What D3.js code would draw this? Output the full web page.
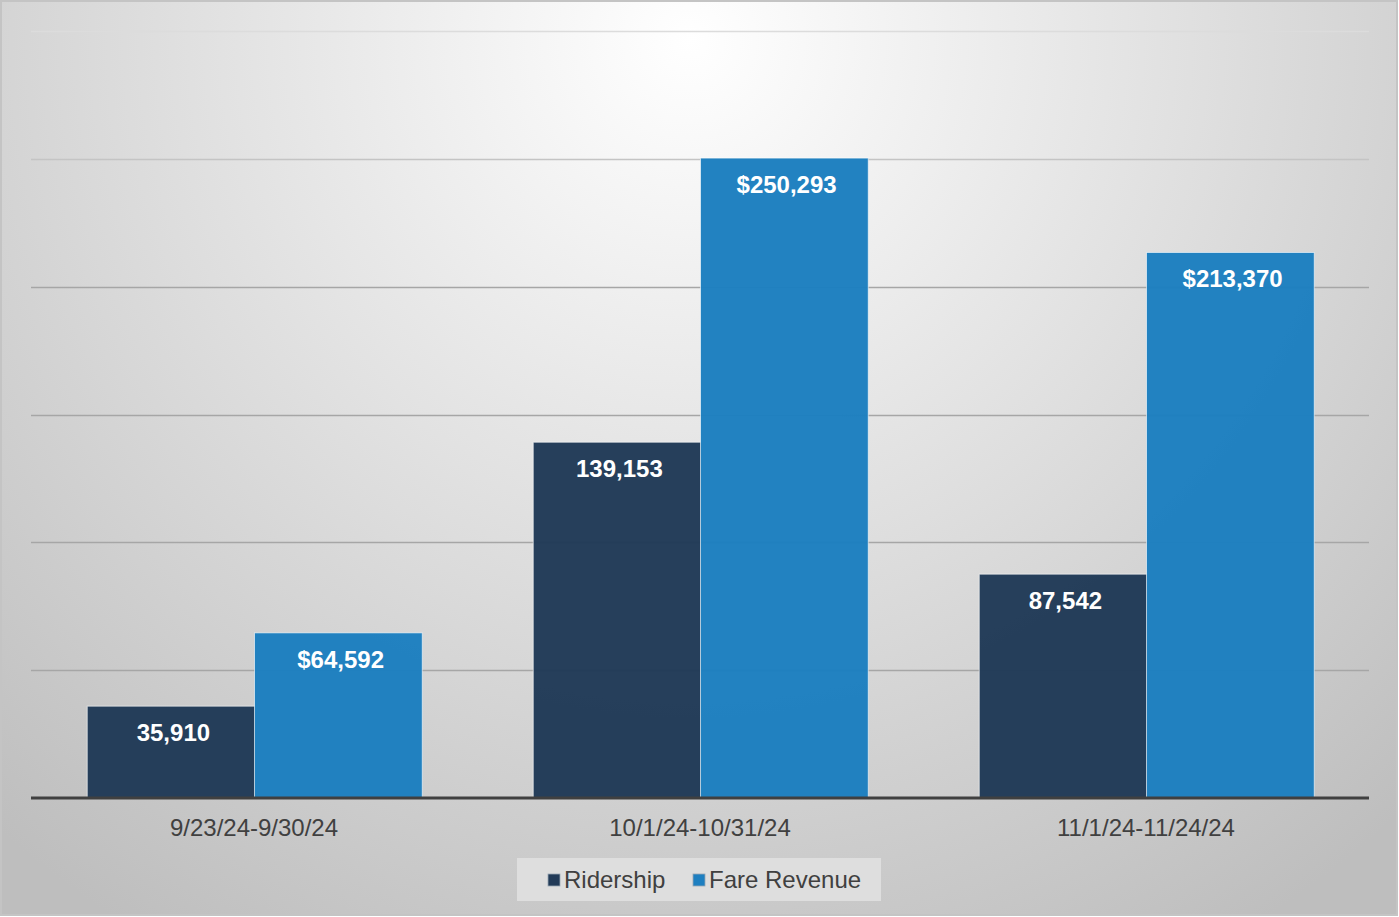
<!DOCTYPE html>
<html>
<head>
<meta charset="utf-8">
<script src="https://cdn.jsdelivr.net/npm/d3@7"></script>
<style>
  html, body { margin: 0; padding: 0; background: #fff; }
  svg { display: block; font-family: "Liberation Sans", Arial, sans-serif; }
</style>
</head>
<body>
<div id="chart"></div>
<script>
  // periods on the x axis
  var categories = ["9/23/24-9/30/24", "10/1/24-10/31/24", "11/1/24-11/24/24"];
  var seriesNames = ["Ridership", "Fare Revenue"];
  var ridership = [35910, 139153, 87542];
  var fareRevenue = [64592, 250293, 213370];
  var gridTicks = [0, 50000, 100000, 150000, 200000, 250000, 300000];

  var colors = { "Ridership": "#223b58", "Fare Revenue": "#1e7fc0" };

  var W = 1399, H = 917;
  var plot = { left: 31, right: 1369, top: 31, bottom: 798 };

  var svg = d3.select("#chart").append("svg")
    .attr("width", W)
    .attr("height", H);

  // background gradient, light at top middle
  var defs = svg.append("defs");
  var grad = defs.append("radialGradient")
    .attr("id", "bg")
    .attr("gradientUnits", "userSpaceOnUse")
    .attr("cx", 690).attr("cy", 40).attr("r", 1050);
  grad.append("stop").attr("offset", "0%").attr("stop-color", "#ffffff");
  grad.append("stop").attr("offset", "100%").attr("stop-color", "#bebebe");

  svg.append("rect")
    .attr("x", 1).attr("y", 1)
    .attr("width", W - 3).attr("height", H - 3)
    .attr("fill", "url(#bg)")
    .attr("stroke", "#c4c4c4")
    .attr("stroke-width", 2);

  var y = d3.scaleLinear().domain([0, 300000]).range([plot.bottom, plot.top]);

  var x0 = d3.scaleBand()
    .domain(categories)
    .range([plot.left, plot.right])
    .paddingInner(0.25)
    .paddingOuter(0.125);

  var x1 = d3.scaleBand()
    .domain(seriesNames)
    .range([0, x0.bandwidth()]);

  // gridlines
  svg.append("g").selectAll("line")
    .data(gridTicks.filter(function(d){ return d > 0; }))
    .enter()
    .append("line")
    .attr("x1", plot.left).attr("x2", plot.right)
    .attr("y1", function(d){ return Math.round(y(d)) + 0.5; })
    .attr("y2", function(d){ return Math.round(y(d)) + 0.5; })
    .attr("stroke", function(d){ return d >= 300000 ? "#dcdcdc" : (d >= 250000 ? "#c4c4c4" : "#a6a6a6"); })
    .attr("stroke-width", 1.5);

  var rows = categories.map(function(c, i){
    return { cat: c, values: [
      { name: "Ridership", value: ridership[i], label: d3.format(",")(ridership[i]) },
      { name: "Fare Revenue", value: fareRevenue[i], label: "$" + d3.format(",")(fareRevenue[i]) }
    ]};
  });

  var groups = svg.append("g").selectAll("g")
    .data(rows)
    .enter()
    .append("g")
    .attr("transform", function(d){ return "translate(" + x0(d.cat) + ",0)"; });

  groups.selectAll("rect")
    .data(function(d){ return d.values; })
    .enter()
    .append("rect")
    .attr("x", function(d){ return x1(d.name) + 0.5; })
    .attr("y", function(d){ return y(d.value); })
    .attr("width", x1.bandwidth() + 0.5)
    .attr("height", function(d){ return y(0) - y(d.value); })
    .attr("fill", function(d){ return colors[d.name]; })
    .attr("fill-opacity", 0.98)
    .attr("stroke", "rgba(255,255,255,0.6)")
    .attr("stroke-width", 1);

  groups.selectAll("text")
    .data(function(d){ return d.values; })
    .enter()
    .append("text")
    .attr("x", function(d){ return x1(d.name) + x1.bandwidth() / 2 + 3; })
    .attr("y", function(d){ return y(d.value) + 35; })
    .attr("text-anchor", "middle")
    .attr("fill", "#ffffff")
    .attr("font-weight", "bold")
    .attr("font-size", "24px")
    .text(function(d){ return d.label; });

  // baseline
  svg.append("line")
    .attr("x1", plot.left).attr("x2", plot.right)
    .attr("y1", plot.bottom).attr("y2", plot.bottom)
    .attr("stroke", "#404040")
    .attr("stroke-width", 3);

  // category labels
  svg.append("g").selectAll("text")
    .data(categories)
    .enter()
    .append("text")
    .attr("x", function(d){ return x0(d) + x0.bandwidth() / 2; })
    .attr("y", 836)
    .attr("text-anchor", "middle")
    .attr("fill", "#404040")
    .attr("font-size", "24px")
    .text(function(d){ return d; });

  // legend
  var legend = svg.append("g");
  legend.append("rect")
    .attr("x", 517).attr("y", 858)
    .attr("width", 364).attr("height", 43)
    .attr("fill", "#dedede");

  var legendX = [548, 693];
  seriesNames.forEach(function(name, i){
    legend.append("rect")
      .attr("x", legendX[i]).attr("y", 874)
      .attr("width", 12).attr("height", 12)
      .attr("fill", colors[name])
      .attr("stroke", "#9aa7b5")
      .attr("stroke-width", 0.8);
    legend.append("text")
      .attr("x", legendX[i] + 16)
      .attr("y", 888)
      .attr("fill", "#404040")
      .attr("font-size", "24px")
      .text(name);
  });
</script>
</body>
</html>
